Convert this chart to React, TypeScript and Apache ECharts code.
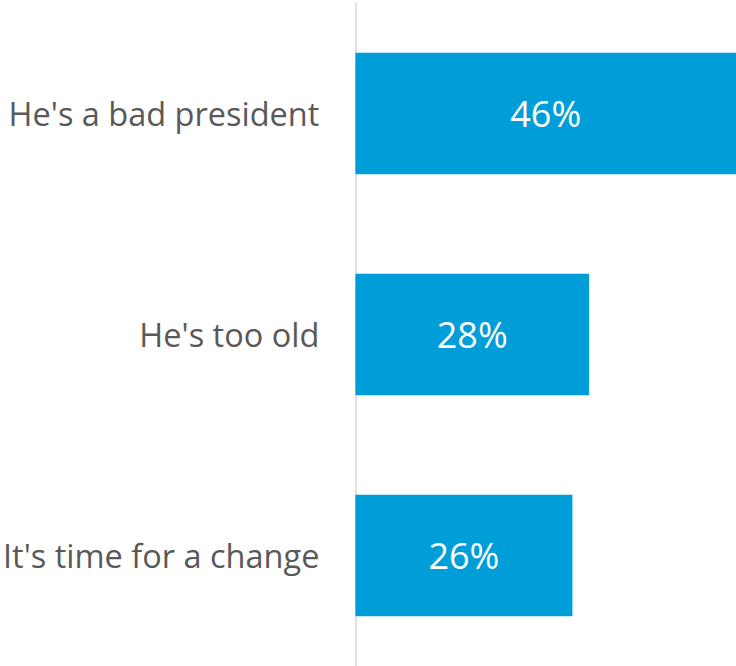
import React, { useEffect, useRef } from "react";
import * as echarts from "echarts";

const categories = ["He's a bad president", "He's too old", "It's time for a change"];
const values = [46, 28, 26];

export default function App() {
  const ref = useRef<HTMLDivElement>(null);
  useEffect(() => {
    if (!ref.current) return;
    const chart = echarts.init(ref.current, undefined, { renderer: "svg" });
    chart.setOption({
      animation: false,
      grid: { left: 355, right: 0, top: 3, bottom: 0, containLabel: false },
      xAxis: {
        type: "value",
        min: 0,
        max: 45.6,
        show: false,
      },
      yAxis: {
        type: "category",
        data: categories,
        inverse: true,
        axisLine: { show: true, lineStyle: { color: "#e3e3e3", width: 2 } },
        axisTick: { show: false },
        axisLabel: {
          color: "#595959",
          fontSize: 32.5,
          fontFamily: "Open Sans",
          margin: 36,
        },
      },
      series: [
        {
          type: "bar",
          data: values,
          barWidth: "55%",
          itemStyle: { color: "#009ED9" },
          label: {
            show: true,
            position: "inside",
            color: "#ffffff",
            fontSize: 36,
            fontFamily: "Open Sans",
            formatter: (p: any) => p.value + "%",
          },
        },
      ],
    });
    return () => chart.dispose();
  }, []);
  return (
    <div
      ref={ref}
      style={{ position: "fixed", left: 0, top: 0, width: 736, height: 666, background: "#fff" }}
    />
  );
}
